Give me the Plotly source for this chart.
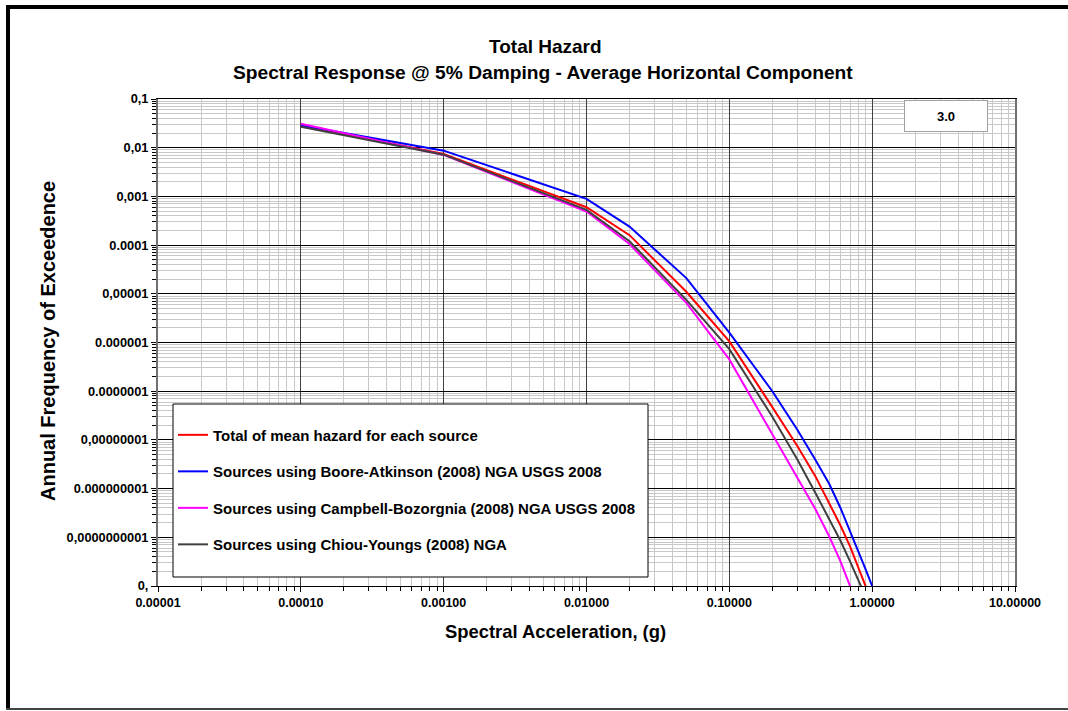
import plotly.graph_objects as go

# ---- data ----
accel_g = [0.0001, 0.001, 0.01, 0.02, 0.05, 0.1, 0.2, 0.3, 0.4, 0.5, 0.6, 0.7, 0.8, 0.9, 1.0]

total_mean = [0.029, 0.0074, 0.0006, 0.00016, 1.1e-5, 1.05e-6, 4.7e-8, 7.4e-9, 1.8e-9, 5.2e-10,
              1.75e-10, 6.5e-11, 2.5e-11, 1.07e-11, 4.5e-12]
boore_atkinson = [0.029, 0.0087, 0.00089, 0.00024, 2.1e-5, 1.6e-6, 1.0e-7, 1.6e-8, 3.9e-9, 1.26e-9,
                  4.0e-10, 1.37e-10, 5.2e-11, 2.2e-11, 1.0e-11]
campbell_bozorgnia = [0.031, 0.0071, 0.00049, 0.000105, 6.5e-6, 4.5e-7, 1.3e-8, 1.6e-9, 3.8e-10,
                      1.05e-10, 3.2e-11, 1.0e-11, 3e-12, 1e-12, 4e-13]
chiou_youngs = [0.027, 0.0072, 0.00053, 0.00012, 7.5e-6, 7.3e-7, 3.0e-8, 3.9e-9, 8.2e-10, 2.4e-10,
                8.5e-11, 3.2e-11, 1.35e-11, 6e-12, 2.5e-12]

series_names = [
    "Total of mean hazard for each source",
    "Sources using Boore-Atkinson (2008) NGA USGS 2008",
    "Sources using Campbell-Bozorgnia (2008) NGA USGS 2008",
    "Sources using Chiou-Youngs (2008) NGA",
]
series_values = [total_mean, boore_atkinson, campbell_bozorgnia, chiou_youngs]
series_colors = ["#ff0000", "#0000ff", "#ff00ff", "#404040"]

x_tickvals = [1e-5, 1e-4, 1e-3, 1e-2, 1e-1, 1, 10]
x_ticktext = ["0.00001", "0.00010", "0.00100", "0.01000", "0.10000", "1.00000", "10.00000"]
y_tickvals = [1e-1, 1e-2, 1e-3, 1e-4, 1e-5, 1e-6, 1e-7, 1e-8, 1e-9, 1e-10, 1e-11]
y_ticktext = ["0,1", "0,01", "0,001", "0.0001", "0,00001", "0.000001", "0.0000001",
              "0,00000001", "0.000000001", "0,0000000001", "0,"]

FONT = "Liberation Sans, Arial, sans-serif"

# plot area at page x 158..1015, y 99..586
FW, FH = 1068, 711
L, T, PW, PH = 158, 99, 857, 487


def px(xs):
    return (xs - L) / PW


def py(ys):
    return (T + PH - ys) / PH


fig = go.Figure()
for i, (name, vals, col) in enumerate(zip(series_names, series_values, series_colors)):
    fig.add_trace(go.Scatter(
        x=accel_g, y=vals, mode="lines", name=name,
        line=dict(color=col, width=2),
        legendgroup=f"g{i}",
    ))

fig.update_layout(
    width=FW, height=FH,
    margin=dict(l=L, r=FW - L - PW, t=T, b=FH - T - PH),
    paper_bgcolor="white", plot_bgcolor="white",
    font=dict(family=FONT, color="black"),
    showlegend=True,
    legend=dict(
        x=px(173), y=py(403), xanchor="left", yanchor="top",
        bgcolor="rgba(0,0,0,0)", borderwidth=0,
        font=dict(family=FONT, size=15, weight="bold", color="black"),
        tracegroupgap=14,
        title=dict(text=" ", font=dict(size=12)),
        itemwidth=30,
    ),
    xaxis=dict(
        type="log", range=[-5, 1],
        tickvals=x_tickvals, ticktext=x_ticktext,
        tickfont=dict(family=FONT, size=12.5, weight="bold", color="black"),
        showgrid=True, gridcolor="#404040", gridwidth=1,
        showline=True, linecolor="black", linewidth=1, mirror=True,
        ticks="outside", ticklen=5, tickcolor="black",
        minor=dict(dtick="D1", showgrid=True, gridcolor="#c8c8c8", gridwidth=1,
                   ticks="outside", ticklen=4, tickcolor="black"),
        zeroline=False,
    ),
    yaxis=dict(
        type="log", range=[-11, -1],
        tickvals=y_tickvals, ticktext=y_ticktext,
        tickfont=dict(family=FONT, size=12.8, weight="bold", color="black"),
        showgrid=True, gridcolor="black", gridwidth=1,
        showline=True, linecolor="#707070", linewidth=2, mirror=True,
        ticks="outside", ticklen=5, tickcolor="black",
        minor=dict(dtick="D1", showgrid=True, gridcolor="#c8c8c8", gridwidth=1,
                   ticks="outside", ticklen=4, tickcolor="black"),
        zeroline=False,
    ),
)

# legend box (drawn as a shape so its padding matches the reference)
fig.add_shape(type="rect", xref="paper", yref="paper",
              x0=px(173), x1=px(648), y0=py(577), y1=py(404),
              fillcolor="white", line=dict(color="black", width=1), layer="above")

# title lines
fig.add_annotation(
    text="Total Hazard", xref="paper", yref="paper",
    x=px(545), y=py(47), showarrow=False, xanchor="center", yanchor="middle",
    font=dict(family=FONT, size=19, weight="bold", color="black"),
)
fig.add_annotation(
    text="Spectral Response @ 5% Damping - Average Horizontal Component", xref="paper", yref="paper",
    x=px(543), y=py(72), showarrow=False, xanchor="center", yanchor="middle",
    font=dict(family=FONT, size=19.2, weight="bold", color="black"),
)
# axis titles
fig.add_annotation(
    text="Spectral Acceleration, (g)", xref="paper", yref="paper",
    x=px(555), y=py(631), showarrow=False,
    xanchor="center", yanchor="middle",
    font=dict(family=FONT, size=18.4, weight="bold", color="black"),
)
fig.add_annotation(
    text="Annual Frequency of Exceedence", xref="paper", yref="paper",
    x=px(48), y=py(341), showarrow=False, textangle=-90,
    xanchor="center", yanchor="middle",
    font=dict(family=FONT, size=20, weight="bold", color="black"),
)
# "3.0" box
fig.add_annotation(
    text="3.0", xref="paper", yref="paper",
    x=px(946), y=py(116), showarrow=False,
    xanchor="center", yanchor="middle", width=80, height=28,
    bgcolor="white", bordercolor="#a0a0a0", borderwidth=1,
    font=dict(family=FONT, size=13, weight="bold", color="black"),
)

# page frame (top and left thick lines, thin bottom line)
x_left, x_right = px(8), px(FW)
y_top, y_bot = py(7), py(709)
fig.add_shape(type="line", xref="paper", yref="paper", x0=px(6), x1=x_right, y0=y_top, y1=y_top,
              line=dict(color="black", width=4))
fig.add_shape(type="line", xref="paper", yref="paper", x0=x_left, x1=x_left, y0=y_bot, y1=py(5),
              line=dict(color="black", width=4))
fig.add_shape(type="line", xref="paper", yref="paper", x0=px(6), x1=x_right, y0=y_bot, y1=y_bot,
              line=dict(color="#444444", width=2))

# remove the default page margin / scrollbars so the figure sits at the window origin
fig.write_html(
    "out.html",
    config={"displayModeBar": False},
    post_script=(
        "document.body.style.margin='0';"
        "document.body.style.overflow='hidden';"
        "document.documentElement.style.overflow='hidden';"
        "window.scrollTo(0,0);"
    ),
)
